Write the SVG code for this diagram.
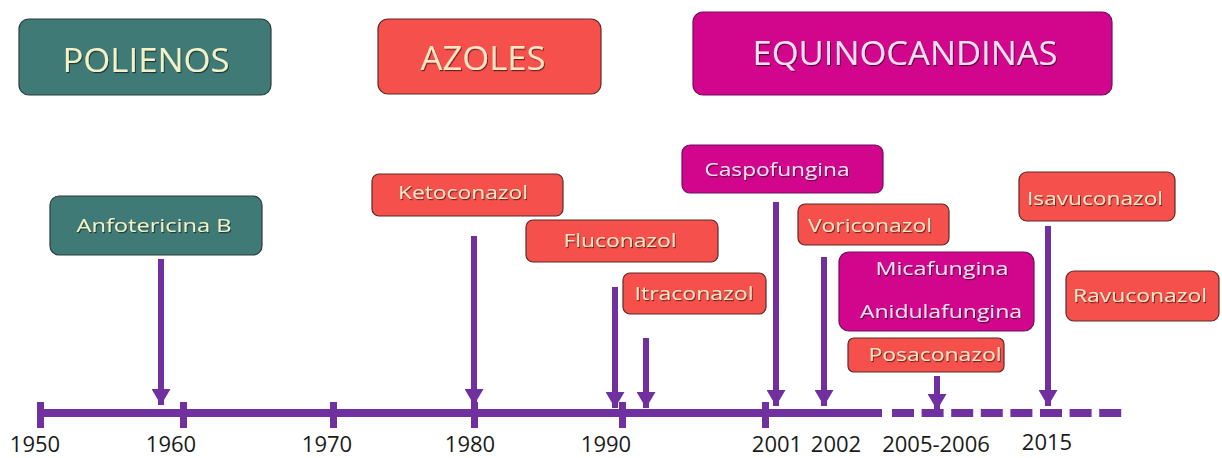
<svg xmlns="http://www.w3.org/2000/svg" width="1222" height="458" viewBox="0 0 1222 458">
<defs>
<filter id="sh" x="-10%" y="-30%" width="120%" height="160%"><feDropShadow dx="1" dy="1.2" stdDeviation="0.7" flood-color="#000" flood-opacity="0.55"/></filter>
<marker id="ah" markerUnits="userSpaceOnUse" markerWidth="18" markerHeight="19" refX="16" refY="9.5" orient="auto" viewBox="0 0 16 19"><path d="M0,0 L16,9.5 L0,19 Z" fill="#7030a0"/></marker>
</defs>
<style>
.t{fill:#3f7a77;stroke:#2c3c3c;stroke-width:1.2}
.r{fill:#f6504d;stroke:#5a2a25;stroke-width:1.2}
.m{fill:#d1068c;stroke:#6a1060;stroke-width:1.2}
text{font-family:"Open Sans","Noto Sans","DejaVu Sans",sans-serif;text-anchor:middle;filter:url(#sh)}
.big{font-size:32px}
.sm{font-size:19px}
.yt{fill:#f2f1c8}
.yr{fill:#f9e6c4}
.pm{fill:#f7e1f1}
.lab{font-family:"Open Sans","Noto Sans",sans-serif;font-size:22px;fill:#1a1a1a;filter:none}
.ar{stroke:#7030a0;stroke-width:6;fill:none}
</style>
<rect width="1222" height="458" fill="#ffffff"/>
<g id="polienos"><rect class="t" x="19" y="19" width="252" height="76" rx="10"/><text class="big yt" x="146" y="72" textLength="167" lengthAdjust="spacingAndGlyphs">POLIENOS</text></g>
<g id="azoles"><rect class="r" x="378" y="19" width="223" height="75" rx="10"/><text class="big yr" x="483" y="70" textLength="125" lengthAdjust="spacingAndGlyphs">AZOLES</text></g>
<g id="equinocandinas"><rect class="m" x="693" y="12" width="419" height="83" rx="10"/><text class="big pm" x="905" y="65" textLength="305" lengthAdjust="spacingAndGlyphs">EQUINOCANDINAS</text></g>
<g id="anfotericina"><rect class="t" x="50" y="196" width="212" height="59" rx="9"/><text class="sm yt" x="154" y="232" textLength="155" lengthAdjust="spacingAndGlyphs">Anfotericina B</text></g>
<g id="ketoconazol"><rect class="r" x="372" y="174" width="191" height="42" rx="7"/><text class="sm yr" x="463" y="199" textLength="130" lengthAdjust="spacingAndGlyphs">Ketoconazol</text></g>
<g id="fluconazol"><rect class="r" x="526" y="220" width="192" height="42" rx="7"/><text class="sm yr" x="620" y="247" textLength="113" lengthAdjust="spacingAndGlyphs">Fluconazol</text></g>
<g id="itraconazol"><rect class="r" x="623" y="273" width="143" height="41" rx="7"/><text class="sm yr" x="694" y="300" textLength="119" lengthAdjust="spacingAndGlyphs">Itraconazol</text></g>
<g id="caspofungina"><rect class="m" x="682" y="145" width="201" height="48" rx="8"/><text class="sm pm" x="777" y="176" textLength="145" lengthAdjust="spacingAndGlyphs">Caspofungina</text></g>
<g id="voriconazol"><rect class="r" x="798" y="204" width="151" height="41" rx="7"/><text class="sm yr" x="870" y="232" textLength="124" lengthAdjust="spacingAndGlyphs">Voriconazol</text></g>
<g id="mica-anidula"><rect class="m" x="839" y="252" width="195" height="79" rx="10"/><text class="sm pm" x="942" y="275" textLength="133" lengthAdjust="spacingAndGlyphs">Micafungina</text><text class="sm pm" x="941" y="318" textLength="162" lengthAdjust="spacingAndGlyphs">Anidulafungina</text></g>
<g id="posaconazol"><rect class="r" x="848" y="338" width="156" height="34" rx="6"/><text class="sm yr" x="935" y="361" textLength="133" lengthAdjust="spacingAndGlyphs">Posaconazol</text></g>
<g id="isavuconazol"><rect class="r" x="1019" y="172" width="156" height="49" rx="8"/><text class="sm yr" x="1095" y="205" textLength="136" lengthAdjust="spacingAndGlyphs">Isavuconazol</text></g>
<g id="ravuconazol"><rect class="r" x="1066" y="271" width="153" height="50" rx="8"/><text class="sm yr" x="1140" y="302" textLength="134" lengthAdjust="spacingAndGlyphs">Ravuconazol</text></g>
<g id="timeline">
<path d="M38 413 H882" stroke="#7030a0" stroke-width="8" fill="none"/>
<path d="M892 413 H1125" stroke="#7030a0" stroke-width="8" fill="none" stroke-dasharray="22 7.6"/>
<g fill="#7030a0"><rect x="37" y="402" width="7" height="26"/><rect x="180" y="402" width="7" height="26"/><rect x="330" y="402" width="7" height="26"/><rect x="471" y="402" width="7" height="26"/><rect x="619" y="402" width="7" height="26"/><rect x="762" y="402" width="7" height="26"/></g>
<g>
<text class="lab" x="35" y="452">1950</text>
<text class="lab" x="171" y="452">1960</text>
<text class="lab" x="327" y="452">1970</text>
<text class="lab" x="470" y="452">1980</text>
<text class="lab" x="606" y="452">1990</text>
<text class="lab" x="777" y="452">2001</text>
<text class="lab" x="836" y="452">2002</text>
<text class="lab" x="936" y="452">2005-2006</text>
<text class="lab" x="1047" y="450">2015</text>
</g>
</g>
<g id="connectors">
<line class="ar" x1="161" y1="259" x2="161" y2="405" marker-end="url(#ah)"/>
<line class="ar" x1="474" y1="236" x2="474" y2="405" marker-end="url(#ah)"/>
<line class="ar" x1="615" y1="287" x2="615" y2="408" marker-end="url(#ah)"/>
<line class="ar" x1="646" y1="338" x2="646" y2="408" marker-end="url(#ah)"/>
<line class="ar" x1="776" y1="202" x2="776" y2="406" marker-end="url(#ah)"/>
<line class="ar" x1="824" y1="257" x2="824" y2="406" marker-end="url(#ah)"/>
<line class="ar" x1="937" y1="376" x2="937" y2="410" marker-end="url(#ah)"/>
<line class="ar" x1="1048" y1="226" x2="1048" y2="406" marker-end="url(#ah)"/>
</g>
</svg>
